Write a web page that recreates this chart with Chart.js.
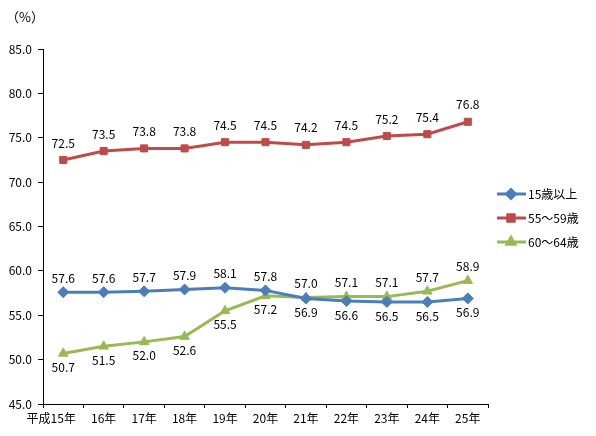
<!DOCTYPE html>
<html>
<head>
<meta charset="utf-8">
<script src="https://cdn.jsdelivr.net/npm/chart.js@4"></script>
<style>
  html, body { margin: 0; padding: 0; background: #fff; }
  #wrap { position: relative; width: 596px; height: 436px; }
</style>
</head>
<body>
<div id="wrap"><canvas id="chart" width="596" height="436"></canvas></div>
<script>
const years = ['15年', '16年', '17年', '18年', '19年', '20年', '21年', '22年', '23年', '24年', '25年'];
const over15 = [57.6, 57.6, 57.7, 57.9, 58.1, 57.8, 56.9, 56.6, 56.5, 56.5, 56.9];
const age55to59 = [72.5, 73.5, 73.8, 73.8, 74.5, 74.5, 74.2, 74.5, 75.2, 75.4, 76.8];
const age60to64 = [50.7, 51.5, 52.0, 52.6, 55.5, 57.2, 57.0, 57.1, 57.1, 57.7, 58.9];
const seriesNames = ['15歳以上', '55～59歳', '60～64歳'];
const yTicks = [45, 50, 55, 60, 65, 70, 75, 80, 85];

const FONT = '"Noto Sans CJK JP", "Noto Sans", sans-serif';
const blue = '#4A7EBB';
const red = '#BE4B48';
const green = '#98B954';

// label offset per point: negative above, positive below
const labelOffset = [
    over15.map((v, i) => i < 6 ? -14 : 14),
    age55to59.map(() => -17),
    age60to64.map((v, i) => i < 6 ? 14 : -14)
];

const dataLabels = {
    id: 'dataLabels',
    afterDatasetsDraw(chart) {
        const ctx = chart.ctx;
        ctx.save();
        ctx.font = '12px ' + FONT;
        ctx.fillStyle = '#000';
        ctx.textAlign = 'center';
        ctx.textBaseline = 'middle';
        chart.data.datasets.forEach((ds, di) => {
            chart.getDatasetMeta(di).data.forEach((pt, i) => {
                ctx.fillText(ds.data[i].toFixed(1), pt.x, pt.y + labelOffset[di][i]);
            });
        });
        ctx.restore();
    }
};

const extras = {
    id: 'extras',
    afterDraw(chart) {
        const ctx = chart.ctx;
        const x = chart.scales.x;
        ctx.save();
        ctx.font = '12px ' + FONT;
        ctx.fillStyle = '#000';
        ctx.textBaseline = 'middle';
        // 平成 prefix before first category label
        const first = x.getPixelForValue(0) - ctx.measureText(years[0]).width / 2;
        ctx.textAlign = 'right';
        ctx.fillText('平成', first, 418);
        // unit
        ctx.font = '13px ' + FONT;
        ctx.textAlign = 'left';
        ctx.fillText('（%）', 6, 17);
        ctx.font = '12px ' + FONT;

        // legend
        const items = [
            { name: seriesNames[0], color: blue, style: 'rectRot' },
            { name: seriesNames[1], color: red, style: 'rect' },
            { name: seriesNames[2], color: green, style: 'triangle' }
        ];
        items.forEach((it, i) => {
            const y = 194 + i * 24;
            ctx.strokeStyle = it.color;
            ctx.lineWidth = 3;
            ctx.beginPath();
            ctx.moveTo(497, y);
            ctx.lineTo(526, y);
            ctx.stroke();
            ctx.fillStyle = it.color;
            Chart.helpers.drawPoint(ctx, { pointStyle: it.style, radius: 4.5, borderWidth: 1 }, 511, y);
            ctx.fill();
            ctx.fillStyle = '#000';
            ctx.fillText(it.name, 528, y);
        });
        ctx.restore();
    }
};

function series(label, data, color, style) {
    return {
        label: label,
        data: data,
        borderColor: color,
        backgroundColor: color,
        borderWidth: 3,
        pointStyle: style,
        pointRadius: style === 'rect' ? 5 : 5.5,
        pointBorderWidth: 1,
        pointBorderColor: color,
        tension: 0
    };
}

new Chart(document.getElementById('chart'), {
    type: 'line',
    data: {
        labels: years,
        datasets: [
            series(seriesNames[0], over15, blue, 'rectRot'),
            series(seriesNames[1], age55to59, red, 'rect'),
            series(seriesNames[2], age60to64, green, 'triangle')
        ]
    },
    options: {
        responsive: false,
        animation: false,
        layout: { padding: { top: 49, right: 108, left: 0, bottom: 0 } },
        plugins: {
            legend: { display: false },
            tooltip: { enabled: false }
        },
        scales: {
            x: {
                offset: true,
                grid: { display: true, drawOnChartArea: false, offset: true, tickLength: 4, color: '#000' },
                border: { display: true, color: '#000', width: 1 },
                ticks: { color: '#000', font: { size: 12, family: FONT }, maxRotation: 0, padding: 3 },
                afterFit(scale) { scale.height = 32; }
            },
            y: {
                min: 45,
                max: 85,
                afterBuildTicks(scale) { scale.ticks = yTicks.map(v => ({ value: v })); },
                grid: { display: true, drawOnChartArea: false, tickLength: 5, color: '#000' },
                border: { display: true, color: '#000', width: 1 },
                ticks: {
                    color: '#000',
                    font: { size: 12, family: FONT },
                    padding: 6,
                    callback: v => v.toFixed(1)
                },
                afterFit(scale) { scale.width = 43; }
            }
        }
    },
    plugins: [dataLabels, extras]
});
</script>
</body>
</html>
